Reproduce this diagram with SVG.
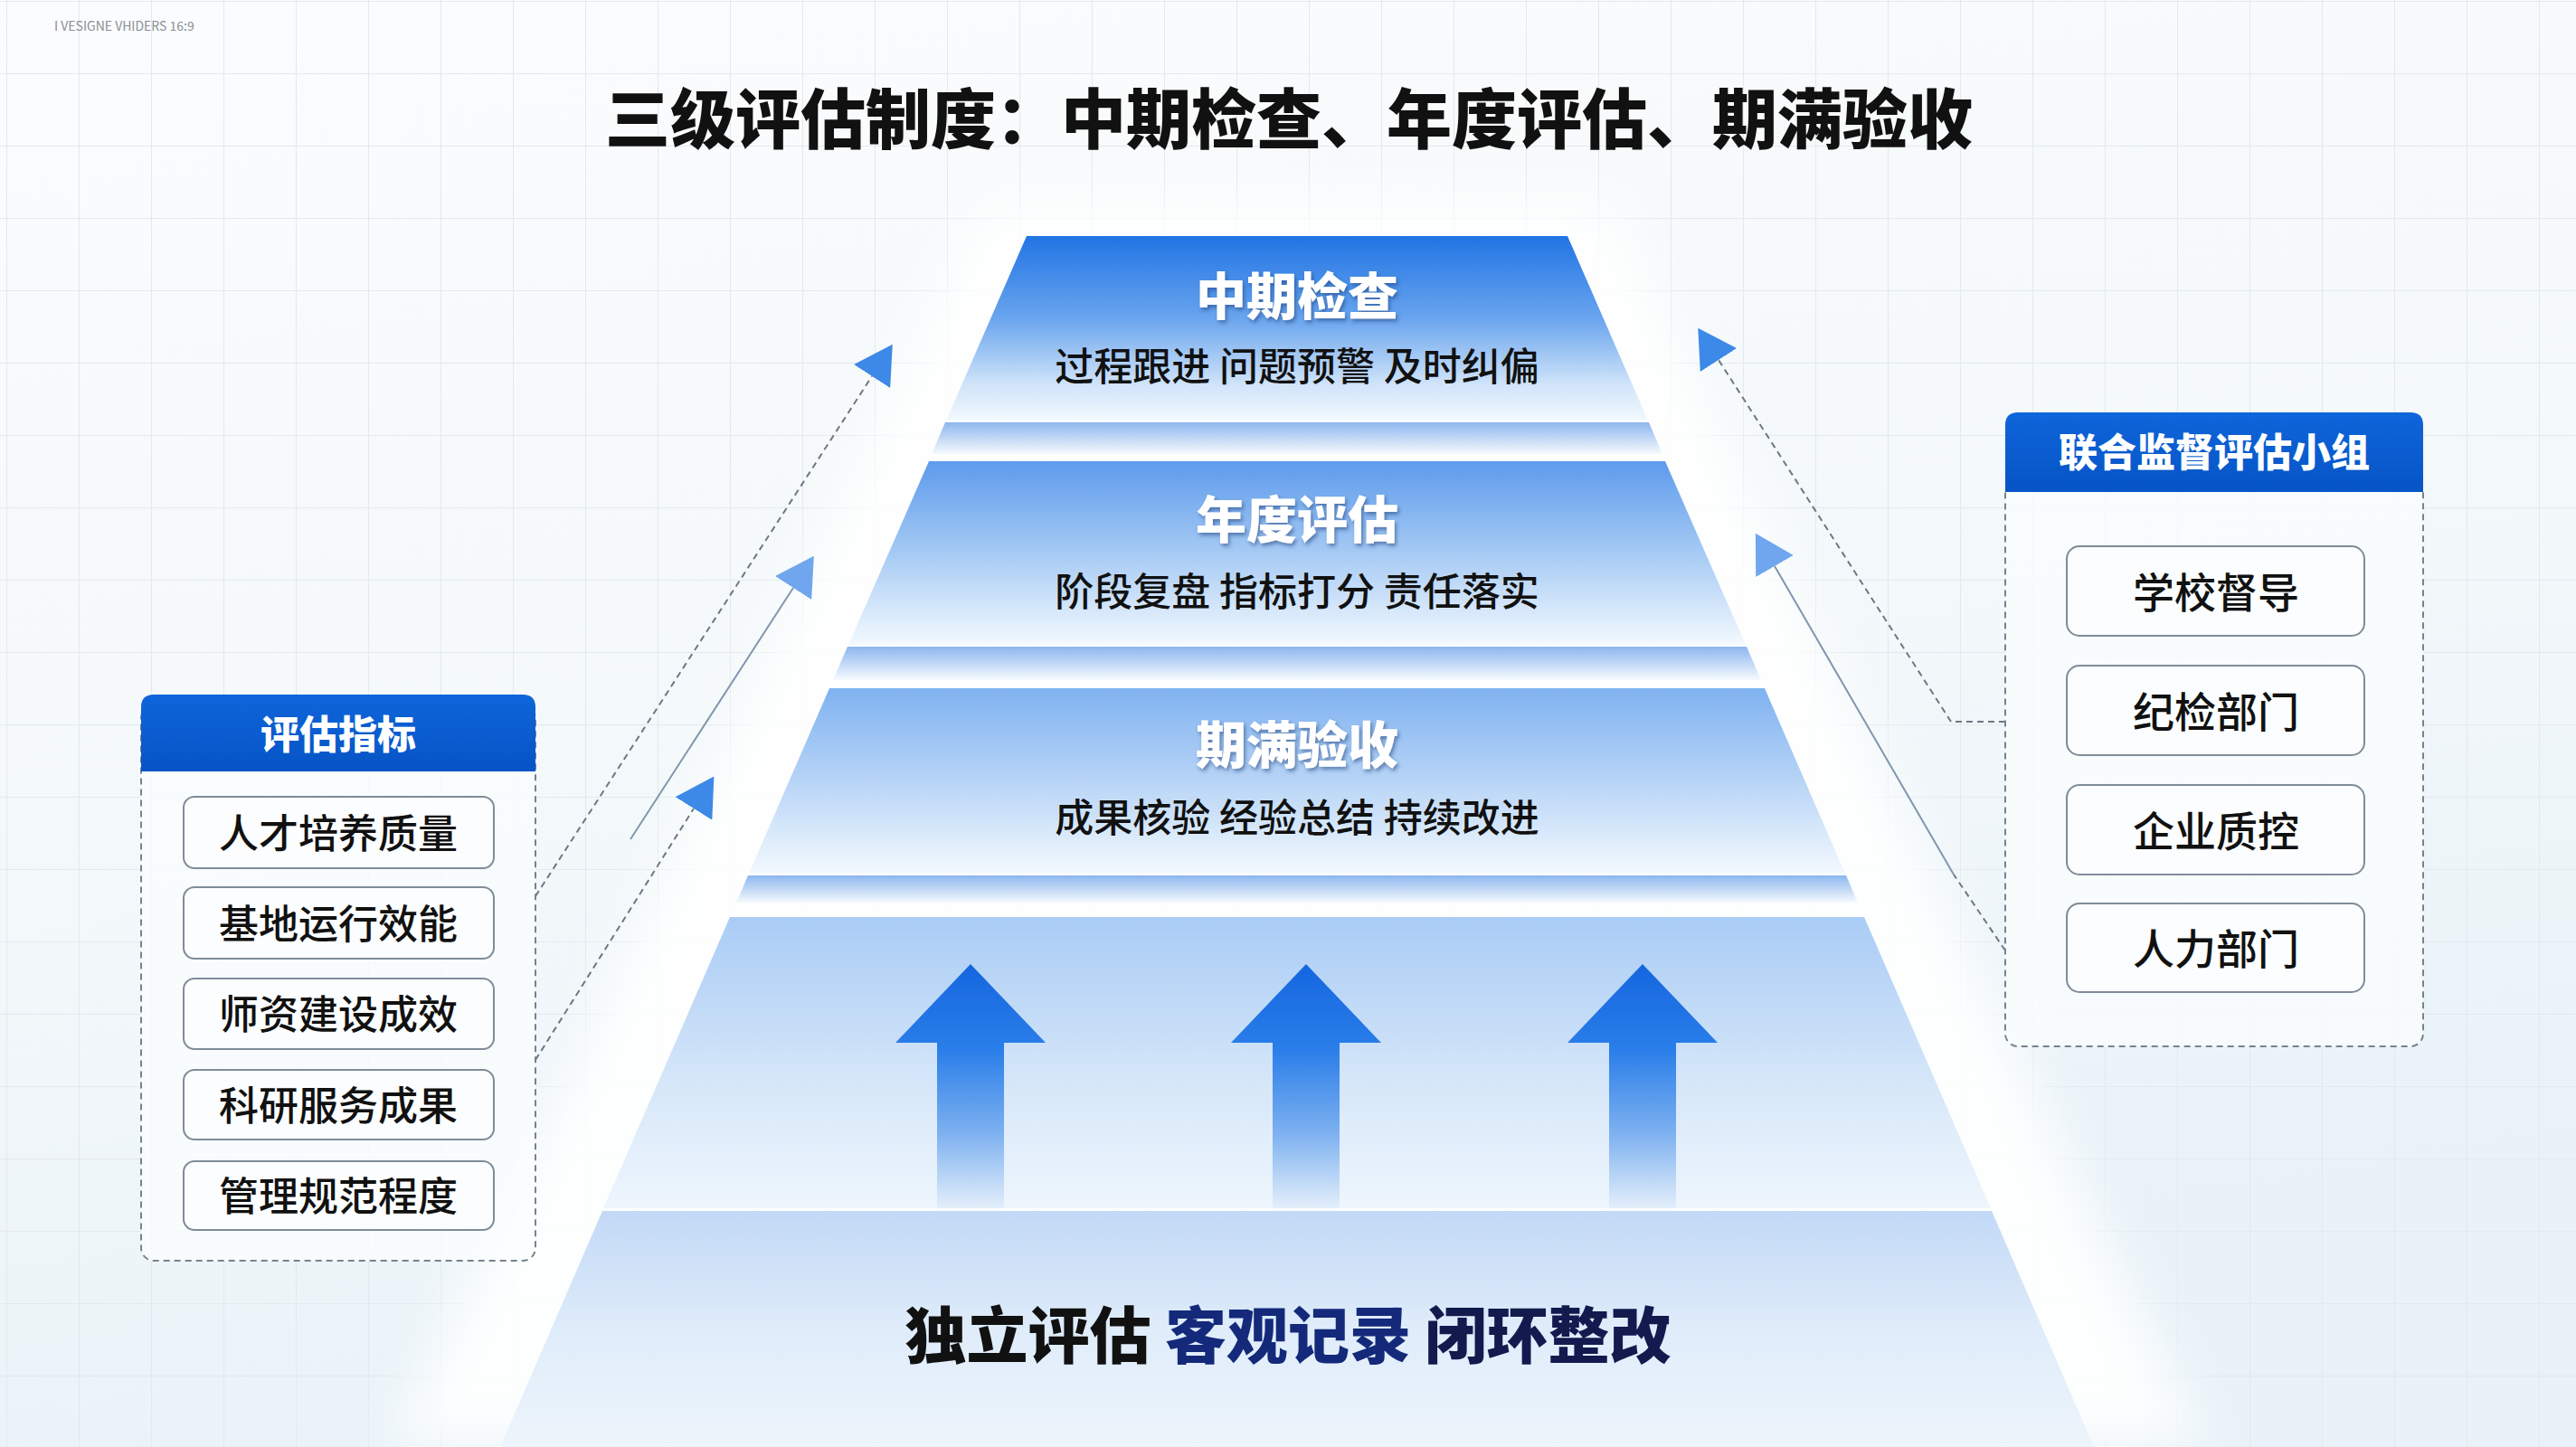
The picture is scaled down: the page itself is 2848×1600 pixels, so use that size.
<svg xmlns="http://www.w3.org/2000/svg" width="2848" height="1600" viewBox="0 0 2848 1600">
<defs>
<style>
.cjk{font-family:"Noto Sans CJK SC","Noto Sans",sans-serif}
.title{font-size:72px;font-weight:900;fill:#111}
.tierT{font-size:56px;font-weight:800;fill:#fff}
.tierS{font-size:43px;font-weight:500;fill:#111}
.hdrT{font-size:43px;font-weight:800;fill:#fff}
.itemL{font-size:44px;font-weight:500;fill:#111}
.itemR{font-size:46px;font-weight:500;fill:#111}
.box{fill:#fbfdfe;stroke:#7f8c99;stroke-width:2}
.panel{fill:#fbfdfe;fill-opacity:0.75;stroke:#76838f;stroke-width:2;stroke-dasharray:7 5}
.dash{fill:none;stroke:#6c7884;stroke-width:2;stroke-dasharray:7 5}
.solid{fill:none;stroke:#7f96ae;stroke-width:2}
.band{fill:url(#band)}
.bigArrow{fill:url(#arrowG)}
</style>
<pattern id="grid" x="7" y="1" width="80" height="80" patternUnits="userSpaceOnUse">
<path d="M0 0H80M0 0V80" fill="none" stroke="#e3e9ee" stroke-width="2"/>
</pattern>
<linearGradient id="bg" x1="0" y1="0" x2="0.3" y2="1">
<stop offset="0" stop-color="#fbfcfd"/>
<stop offset="0.6" stop-color="#f3f8fa"/>
<stop offset="1" stop-color="#e8f2f8"/>
</linearGradient>
<linearGradient id="t1" x1="0" y1="0" x2="0" y2="1">
<stop offset="0" stop-color="#2174e4"/>
<stop offset="0.45" stop-color="#6aa5ee"/>
<stop offset="0.8" stop-color="#cfe3f9"/>
<stop offset="1" stop-color="#f3f9fe"/>
</linearGradient>
<linearGradient id="t2" x1="0" y1="0" x2="0" y2="1">
<stop offset="0" stop-color="#5d9bec"/>
<stop offset="0.5" stop-color="#a6caf4"/>
<stop offset="1" stop-color="#f3f9fe"/>
</linearGradient>
<linearGradient id="t3" x1="0" y1="0" x2="0" y2="1">
<stop offset="0" stop-color="#7fb2f0"/>
<stop offset="0.5" stop-color="#b7d4f6"/>
<stop offset="1" stop-color="#f3f9fe"/>
</linearGradient>
<linearGradient id="t4" x1="0" y1="0" x2="0" y2="1">
<stop offset="0" stop-color="#a9ccf5"/>
<stop offset="0.6" stop-color="#d8e8f9"/>
<stop offset="1" stop-color="#eef6fd"/>
</linearGradient>
<linearGradient id="t5" x1="0" y1="0" x2="0" y2="1">
<stop offset="0" stop-color="#c2d9f6"/>
<stop offset="0.5" stop-color="#dfecfa"/>
<stop offset="1" stop-color="#edf5fb"/>
</linearGradient>
<linearGradient id="band" x1="0" y1="0" x2="0" y2="1">
<stop offset="0" stop-color="#8db6ee"/>
<stop offset="1" stop-color="#f6fafe"/>
</linearGradient>
<linearGradient id="arrowG" x1="0" y1="1066" x2="0" y2="1336" gradientUnits="userSpaceOnUse">
<stop offset="0" stop-color="#1566df"/>
<stop offset="0.35" stop-color="#2a7ee9"/>
<stop offset="0.7" stop-color="#7fb2f0"/>
<stop offset="1" stop-color="#e4effb"/>
</linearGradient>
<linearGradient id="hdr" x1="0" y1="0" x2="0" y2="1">
<stop offset="0" stop-color="#0f65da"/>
<stop offset="1" stop-color="#0654c6"/>
</linearGradient>
<filter id="glow" x="-20%" y="-20%" width="140%" height="140%">
<feGaussianBlur stdDeviation="28"/>
</filter>
<filter id="tshadow" x="-10%" y="-30%" width="120%" height="160%">
<feDropShadow dx="2" dy="3" stdDeviation="2" flood-color="#1b3c7a" flood-opacity="0.55"/>
</filter>
<marker id="headDark" viewBox="0 0 42 48" refX="0" refY="24" markerWidth="42" markerHeight="48" markerUnits="userSpaceOnUse" orient="auto">
<path d="M0 0L42 24L0 48Z" fill="#3d89e8"/>
</marker>
<marker id="headLight" viewBox="0 0 42 48" refX="0" refY="24" markerWidth="42" markerHeight="48" markerUnits="userSpaceOnUse" orient="auto">
<path d="M0 0L42 24L0 48Z" fill="#6fa6ee"/>
</marker>
</defs>

<g id="background">
<rect x="0" y="0" width="2848" height="1600" fill="url(#bg)"/>
<rect x="0" y="0" width="2848" height="1600" fill="url(#grid)"/>
<polygon points="1090,225 1778,225 2440,1600 430,1600" fill="#ffffff" fill-opacity="0.9" filter="url(#glow)"/>
<text x="60" y="34" class="cjk" style="font-size:14px;fill:#8a8f95">I VESIGNE VHIDERS 16:9</text>
</g>

<g id="title">
<text x="1425" y="126" class="cjk title" text-anchor="middle" dominant-baseline="central">三级评估制度：中期检查、年度评估、期满验收</text>
</g>

<g id="pyramid">
<g id="tier-base">
<polygon points="666,1339 2202,1339 2315,1600 553,1600" fill="url(#t5)"/>
<text x="1424" y="1472" class="cjk" style="font-size:68px;font-weight:900" text-anchor="middle" dominant-baseline="central"><tspan fill="#111">独立评估 </tspan><tspan fill="#14297a">客观记录 </tspan><tspan fill="#121a4e">闭环整改</tspan></text>
</g>
<g id="tier-arrows">
<polygon points="807,1014 2061,1014 2201,1336 667,1336" fill="url(#t4)"/>
<path class="bigArrow" d="M1073 1066L1156 1153H1110V1336H1036V1153H990Z"/>
<path class="bigArrow" d="M1444 1066L1527 1153H1481V1336H1407V1153H1361Z"/>
<path class="bigArrow" d="M1816 1066L1899 1153H1853V1336H1779V1153H1733Z"/>
</g>
<g id="tier-qimanyanshou">
<polygon points="917,761 1951,761 2040,966 828,966" fill="url(#t3)"/>
<polygon class="band" points="827,968 2041,968 2054,998 814,998"/>
<text x="1434" y="819" class="cjk tierT" text-anchor="middle" dominant-baseline="central" filter="url(#tshadow)">期满验收</text>
<text x="1434" y="901" class="cjk tierS" text-anchor="middle" dominant-baseline="central">成果核验 经验总结 持续改进</text>
</g>
<g id="tier-niandupinggu">
<polygon points="1027,510 1841,510 1930,713 938,713" fill="url(#t2)"/>
<polygon class="band" points="937,715 1931,715 1947,752 921,752"/>
<text x="1434" y="570" class="cjk tierT" text-anchor="middle" dominant-baseline="central" filter="url(#tshadow)">年度评估</text>
<text x="1434" y="651" class="cjk tierS" text-anchor="middle" dominant-baseline="central">阶段复盘 指标打分 责任落实</text>
</g>
<g id="tier-zhongqijiancha">
<polygon points="1135,261 1733,261 1822,465 1046,465" fill="url(#t1)"/>
<polygon class="band" points="1045,467 1823,467 1838,502 1030,502"/>
<text x="1434" y="323" class="cjk tierT" text-anchor="middle" dominant-baseline="central" filter="url(#tshadow)">中期检查</text>
<text x="1434" y="402" class="cjk tierS" text-anchor="middle" dominant-baseline="central">过程跟进 问题预警 及时纠偏</text>
</g>
</g>

<g id="connectors">
<path class="dash" d="M592 991L964 416" marker-end="url(#headDark)"/>
<path class="solid" d="M697 928L877 650" marker-end="url(#headLight)"/>
<path class="dash" d="M592 1172L767 894" marker-end="url(#headDark)"/>
<path class="dash" d="M2217 798H2157L1900 398" marker-end="url(#headDark)"/>
<path class="dash" d="M2217 1051L2160 967"/>
<path class="solid" d="M2160 967L1962 626" marker-end="url(#headLight)"/>
</g>

<g id="panel-indicators">
<rect class="panel" x="156" y="780" width="436" height="614" rx="14"/>
<path d="M156 853V782Q156 768 170 768H578Q592 768 592 782V853Z" fill="url(#hdr)"/>
<text x="374" y="809" class="cjk hdrT" text-anchor="middle" dominant-baseline="central">评估指标</text>
<g id="ind-1"><rect class="box" x="203" y="881" width="343" height="79" rx="12"/><text x="374" y="919" class="cjk itemL" text-anchor="middle" dominant-baseline="central">人才培养质量</text></g>
<g id="ind-2"><rect class="box" x="203" y="981" width="343" height="79" rx="12"/><text x="374" y="1019" class="cjk itemL" text-anchor="middle" dominant-baseline="central">基地运行效能</text></g>
<g id="ind-3"><rect class="box" x="203" y="1082" width="343" height="78" rx="12"/><text x="374" y="1119" class="cjk itemL" text-anchor="middle" dominant-baseline="central">师资建设成效</text></g>
<g id="ind-4"><rect class="box" x="203" y="1183" width="343" height="77" rx="12"/><text x="374" y="1220" class="cjk itemL" text-anchor="middle" dominant-baseline="central">科研服务成果</text></g>
<g id="ind-5"><rect class="box" x="203" y="1284" width="343" height="76" rx="12"/><text x="374" y="1320" class="cjk itemL" text-anchor="middle" dominant-baseline="central">管理规范程度</text></g>
</g>

<g id="panel-supervision">
<rect class="panel" x="2217" y="530" width="462" height="627" rx="14"/>
<path d="M2217 544V470Q2217 456 2231 456H2665Q2679 456 2679 470V544Z" fill="url(#hdr)"/>
<text x="2448" y="497" class="cjk hdrT" text-anchor="middle" dominant-baseline="central">联合监督评估小组</text>
<g id="sup-1"><rect class="box" x="2285" y="604" width="329" height="99" rx="14"/><text x="2450" y="652" class="cjk itemR" text-anchor="middle" dominant-baseline="central">学校督导</text></g>
<g id="sup-2"><rect class="box" x="2285" y="736" width="329" height="99" rx="14"/><text x="2450" y="784" class="cjk itemR" text-anchor="middle" dominant-baseline="central">纪检部门</text></g>
<g id="sup-3"><rect class="box" x="2285" y="868" width="329" height="99" rx="14"/><text x="2450" y="916" class="cjk itemR" text-anchor="middle" dominant-baseline="central">企业质控</text></g>
<g id="sup-4"><rect class="box" x="2285" y="999" width="329" height="98" rx="14"/><text x="2450" y="1046" class="cjk itemR" text-anchor="middle" dominant-baseline="central">人力部门</text></g>
</g>
</svg>
